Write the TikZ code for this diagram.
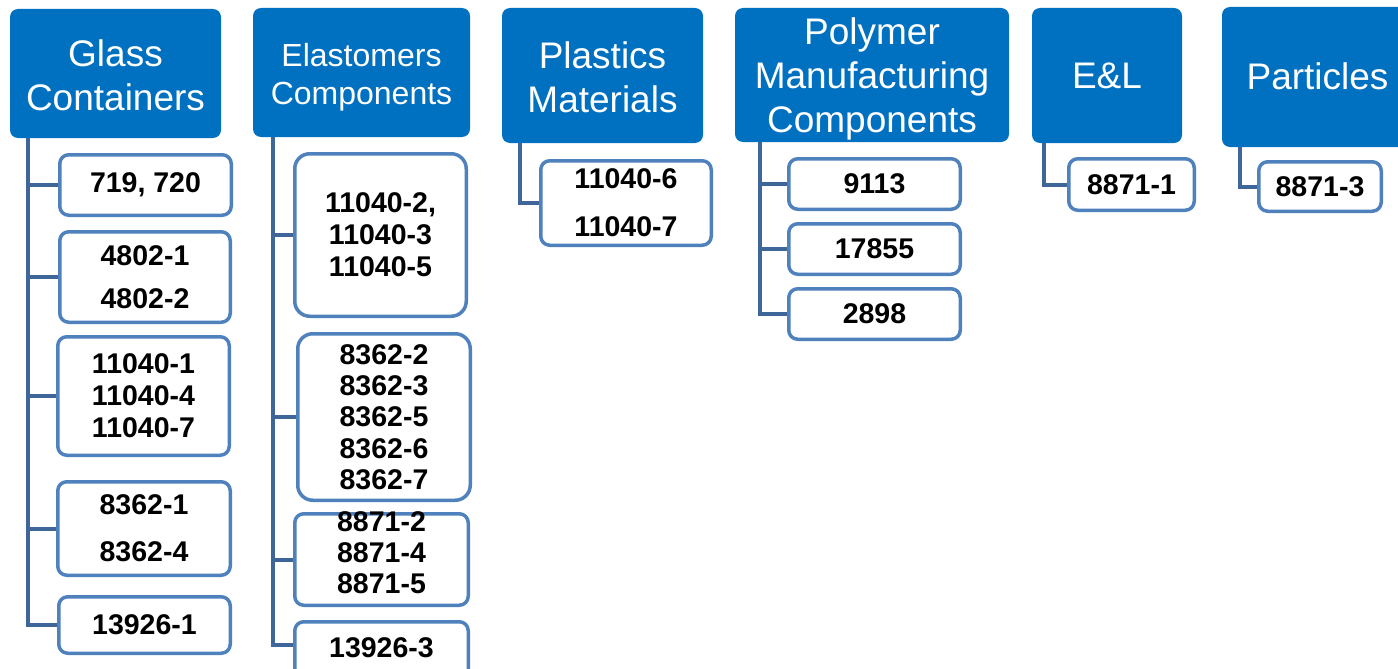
\documentclass[tikz,border=0pt]{standalone}
\usepackage{fontspec}
\setmainfont{Liberation Sans}
\usetikzlibrary{backgrounds}
\definecolor{hdrblue}{HTML}{0070C0}
\definecolor{boxblue}{HTML}{4F81BD}
\definecolor{linkblue}{HTML}{3F6699}

\begin{document}
\begin{tikzpicture}[x=1pt,y=-1pt,
  hdr/.style={fill=hdrblue, rounded corners=8pt, inner sep=0pt},
  hdrtext/.style={text=white, align=center, inner sep=0pt,
    font=\fontsize{37}{44}\selectfont},
  item/.style={draw=boxblue, line width=3.5pt, fill=white, rounded corners=9pt,
    align=center, inner sep=0pt, font=\fontsize{28.5}{32}\selectfont\bfseries},
  itemtext/.style={align=center, inner sep=0pt,
    font=\fontsize{28.5}{32}\selectfont\bfseries},
  link/.style={draw=linkblue, line width=4pt}]

\useasboundingbox (0,0) rectangle (1398,669);
\clip (0,0) rectangle (1398,669);

% category headers
\node[hdr, minimum width=211pt, minimum height=129pt] (glass) at (115.5,73.5) {};
\node[hdrtext] (glasst) at (115.5,75.5) {Glass\\Containers};
\node[hdr, minimum width=217pt, minimum height=129pt] (elast) at (361.5,72.5) {};
\node[hdrtext, font=\fontsize{32}{38}\selectfont] (elastt) at (361.5,77.5) {Elastomers\\Components};
\node[hdr, minimum width=201pt, minimum height=135pt] (plast) at (602.5,75.5) {};
\node[hdrtext] (plastt) at (602.5,77.5) {Plastics\\Materials};
\node[hdr, minimum width=274pt, minimum height=134pt] (poly) at (872,75) {};
\node[hdrtext] (polyt) at (872,79) {Polymer\\Manufacturing\\Components};
\node[hdr, minimum width=150pt, minimum height=135pt] (el) at (1107,75.5) {};
\node[hdrtext] (elt) at (1107,75.5) {E\&L};
\node[hdr, minimum width=191pt, minimum height=140pt] (part) at (1317.5,77) {};
\node[hdrtext] (partt) at (1317.5,76) {Particles};

% Glass Containers
\node[item, minimum width=171.5pt, minimum height=60.5pt] (gc1) at (145.5,185) {719, 720};
\node[item, minimum width=170.5pt, minimum height=90.5pt] (gc2) at (145,277) {4802-1\\[11pt]4802-2};
\node[item, minimum width=171.5pt, minimum height=118.5pt] (gc3) at (143.5,396) {11040-1\\11040-4\\11040-7};
\node[item, minimum width=172.5pt, minimum height=93.5pt] (gc4) at (144,528.5) {8362-1\\[15pt]8362-4};
\node[item, minimum width=171.5pt, minimum height=56.5pt] (gc5) at (144.5,625) {13926-1};

% Elastomers Components
\node[item, rounded corners=15pt, minimum width=171.5pt, minimum height=162.5pt] (ec1) at (380.5,235) {11040-2,\\11040-3\\11040-5};
\node[item, rounded corners=15pt, minimum width=172.5pt, minimum height=166.5pt] (ec2) at (384,417) {8362-2\\[-0.75pt]8362-3\\[-0.75pt]8362-5\\[-0.75pt]8362-6\\[-0.75pt]8362-7};
\node[item, minimum width=173.5pt, minimum height=91.5pt] (ec3) at (381.5,559.5) {};
\node[itemtext] (ec3t) at (381.5,553) {8871-2\\[-1pt]8871-4\\[-1pt]8871-5};
\node[item, minimum width=173.5pt, minimum height=76.5pt] (ec4) at (381.5,660) {};
\node[itemtext] (ec4t) at (381.5,647.5) {13926-3};

% Plastics Materials
\node[item, minimum width=170.5pt, minimum height=84.5pt] (pm1) at (626,203) {11040-6\\[16pt]11040-7};

% Polymer Manufacturing Components
\node[item, minimum width=171.5pt, minimum height=50.5pt] (mc1) at (874.5,184) {9113};
\node[item, minimum width=171.5pt, minimum height=50.5pt] (mc2) at (874.5,249) {17855};
\node[item, minimum width=171.5pt, minimum height=50.5pt] (mc3) at (874.5,314) {2898};

% E&L and Particles
\node[item, minimum width=125.5pt, minimum height=51.5pt] (el1) at (1131.5,184.5) {8871-1};
\node[item, minimum width=122.5pt, minimum height=49.5pt] (pa1) at (1320,186.5) {8871-3};

% trunk tops, just under each header
\coordinate (gT) at (28,136);
\coordinate (eT) at (273,135);
\coordinate (pT) at (520,141);
\coordinate (mT) at (760,140);
\coordinate (lT) at (1044,141);
\coordinate (rT) at (1240,145);
\coordinate (e4tick) at ([yshift=15pt]ec4.west);

\begin{scope}[on background layer]
  \draw[link] (gT) |- (gc5.west);
  \foreach \n in {gc1,gc2,gc3,gc4} \draw[link] (\n.west -| gT) -- (\n.west);
  \draw[link] (eT) |- (e4tick);
  \foreach \n in {ec1,ec2,ec3} \draw[link] (\n.west -| eT) -- (\n.west);
  \draw[link] (pT) |- (pm1.west);
  \draw[link] (mT) |- (mc3.west);
  \foreach \n in {mc1,mc2} \draw[link] (\n.west -| mT) -- (\n.west);
  \draw[link] (lT) |- (el1.west);
  \draw[link] (rT) |- (pa1.west);
\end{scope}
\end{tikzpicture}
\end{document}
